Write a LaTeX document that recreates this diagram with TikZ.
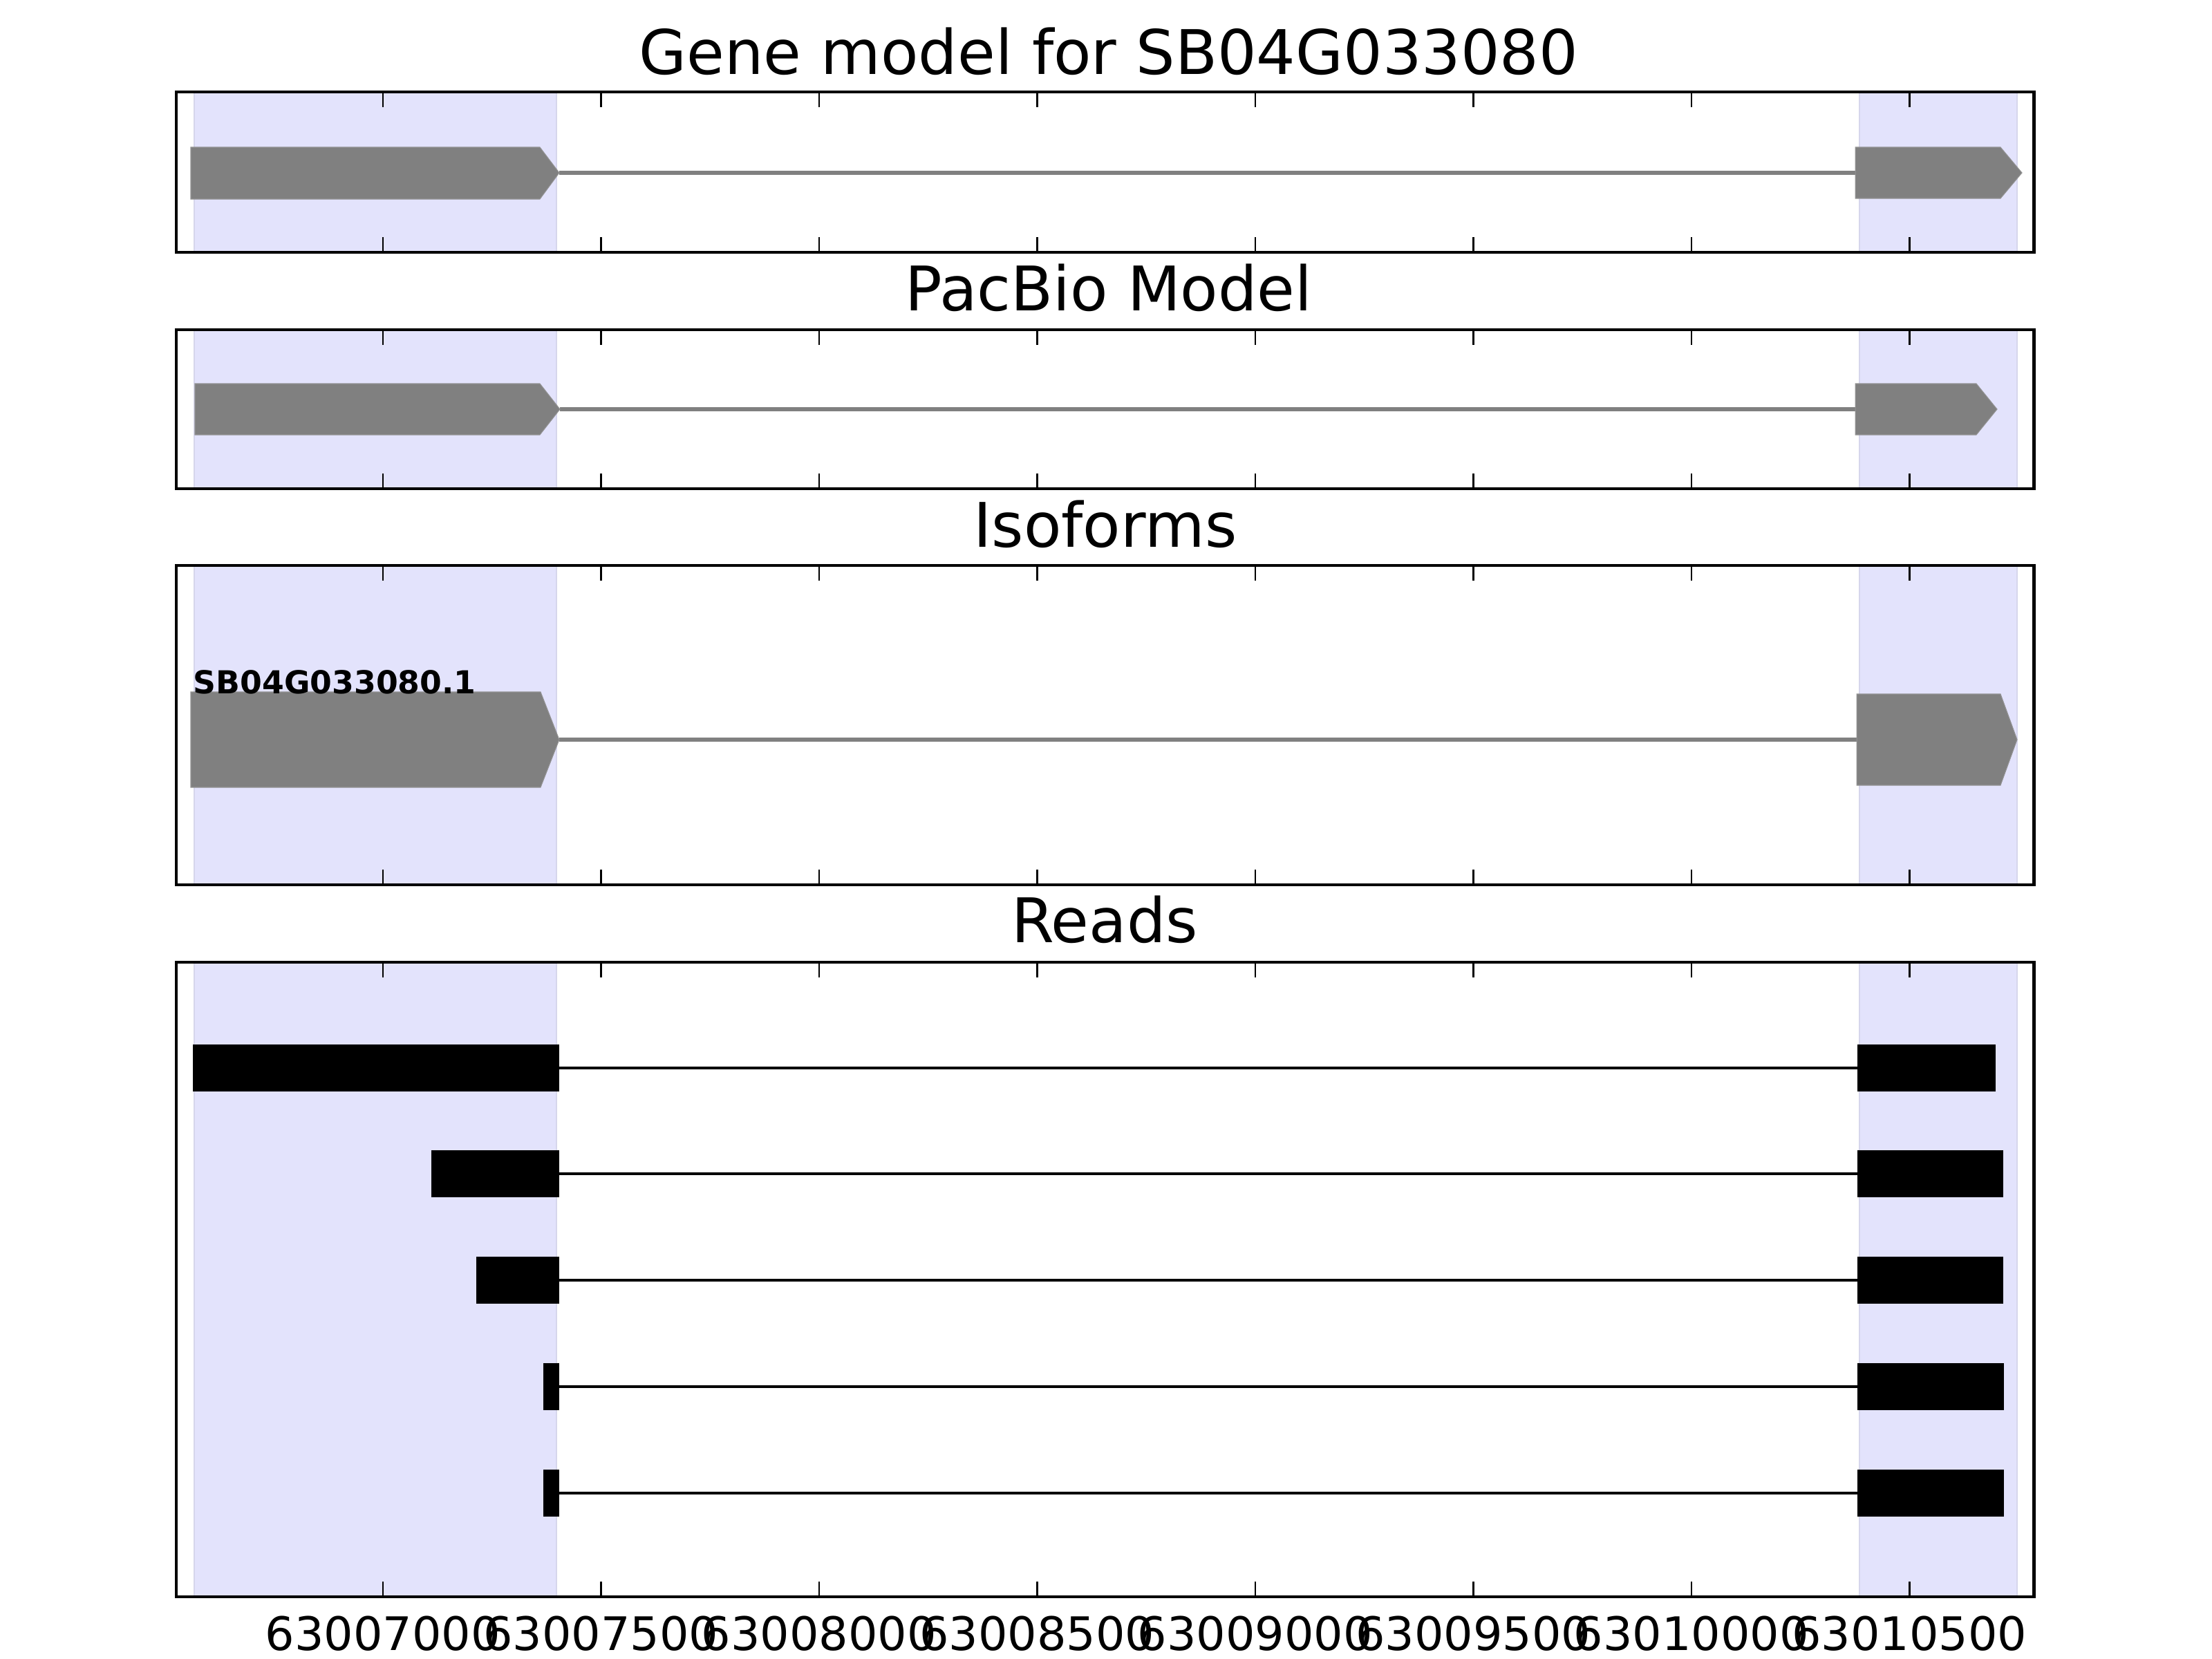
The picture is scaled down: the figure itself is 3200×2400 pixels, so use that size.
\documentclass[tikz,border=0pt]{standalone}
\usepackage{fontspec}
\setmainfont{DejaVu Sans}

\begin{document}
\begin{tikzpicture}[
    x=0.01cm,
    y=-0.01cm,
    panelframe/.style={draw=black, line width=1.4pt},
    tickmark/.style={line width=0.7pt},
    exonspan/.style={fill={rgb,255:red,227;green,227;blue,252}, draw={rgb,255:red,214;green,214;blue,236}, line width=0.6pt},
    intron/.style={draw=gray, line width=1.5pt},
    exon/.style={fill=gray, draw=gray!85, line width=0.3pt},
    readline/.style={draw=black, line width=1.3pt},
    readbar/.style={fill=black, draw=black, line width=0.3pt},
    paneltitle/.style={font=\fontsize{25.3}{30}\selectfont, anchor=base, inner sep=0pt},
    ticklabel/.style={font=\fontsize{19}{23}\selectfont, anchor=base, inner sep=0pt}
]
\useasboundingbox (0,0) rectangle (3200,2400);

% panels: spans, ticks, frames
\foreach \ptop/\pbot in {133/365, 477/707, 818/1280, 1392/2310} {
    \draw[exonspan] (281,\ptop) rectangle (805,\pbot);
    \draw[exonspan] (2690,\ptop) rectangle (2918,\pbot);
    \foreach \k in {0,...,7} {
        \draw[tickmark] (554+315.5*\k,\ptop) -- ++(0,22);
        \draw[tickmark] (554+315.5*\k,\pbot) -- ++(0,-22);
    }
    \draw[panelframe] (255,\ptop) rectangle (2942,\pbot);
}

% titles
\node[paneltitle] (genetitle) at (1604,108) {Gene model for SB04G033080};
\node[paneltitle] (pacbiotitle) at (1604,449) {PacBio Model};
\node[paneltitle] (isotitle) at (1599,791) {Isoforms};
\node[paneltitle] (readstitle) at (1598,1363) {Reads};

% gene model
\draw[intron] (809,250) -- (2684,250);
\fill[exon] (276,213) -- (781,213) -- (809,250) -- (781,288) -- (276,288) -- cycle;
\fill[exon] (2684,213) -- (2894,213) -- (2925,250) -- (2894,287) -- (2684,287) -- cycle;

% pacbio model
\draw[intron] (810,592) -- (2684,592);
\fill[exon] (282,555) -- (781,555) -- (810,592) -- (781,629) -- (282,629) -- cycle;
\fill[exon] (2684,555) -- (2859,555) -- (2889,592) -- (2859,629) -- (2684,629) -- cycle;

% isoforms
\draw[intron] (809,1070) -- (2686,1070);
\fill[exon] (276,1001) -- (782,1001) -- (809,1070) -- (782,1139) -- (276,1139) -- cycle;
\fill[exon] (2686,1004) -- (2894,1004) -- (2918,1070) -- (2894,1136) -- (2686,1136) -- cycle;
\node[anchor=base west, inner sep=0pt, font=\fontsize{13}{15}\selectfont\bfseries] (isolabel) at (279,1003) {SB04G033080.1};

% reads
\foreach \ry/\rs/\re in {1545/280/2886, 1698/625/2897, 1852/690/2897, 2006/787/2898, 2160/787/2898} {
    \draw[readline] (808,\ry) -- (2687,\ry);
    \filldraw[readbar] (\rs,\ry-33) rectangle (808,\ry+33);
    \filldraw[readbar] (2687,\ry-33) rectangle (\re,\ry+33);
}

% x tick labels
\foreach \k/\lab in {0/63007000, 1/63007500, 2/63008000, 3/63008500, 4/63009000, 5/63009500, 6/63010000, 7/63010500} {
    \node[ticklabel] (tl\k) at (554+315.5*\k,2387) {\lab};
}

\end{tikzpicture}
\end{document}
